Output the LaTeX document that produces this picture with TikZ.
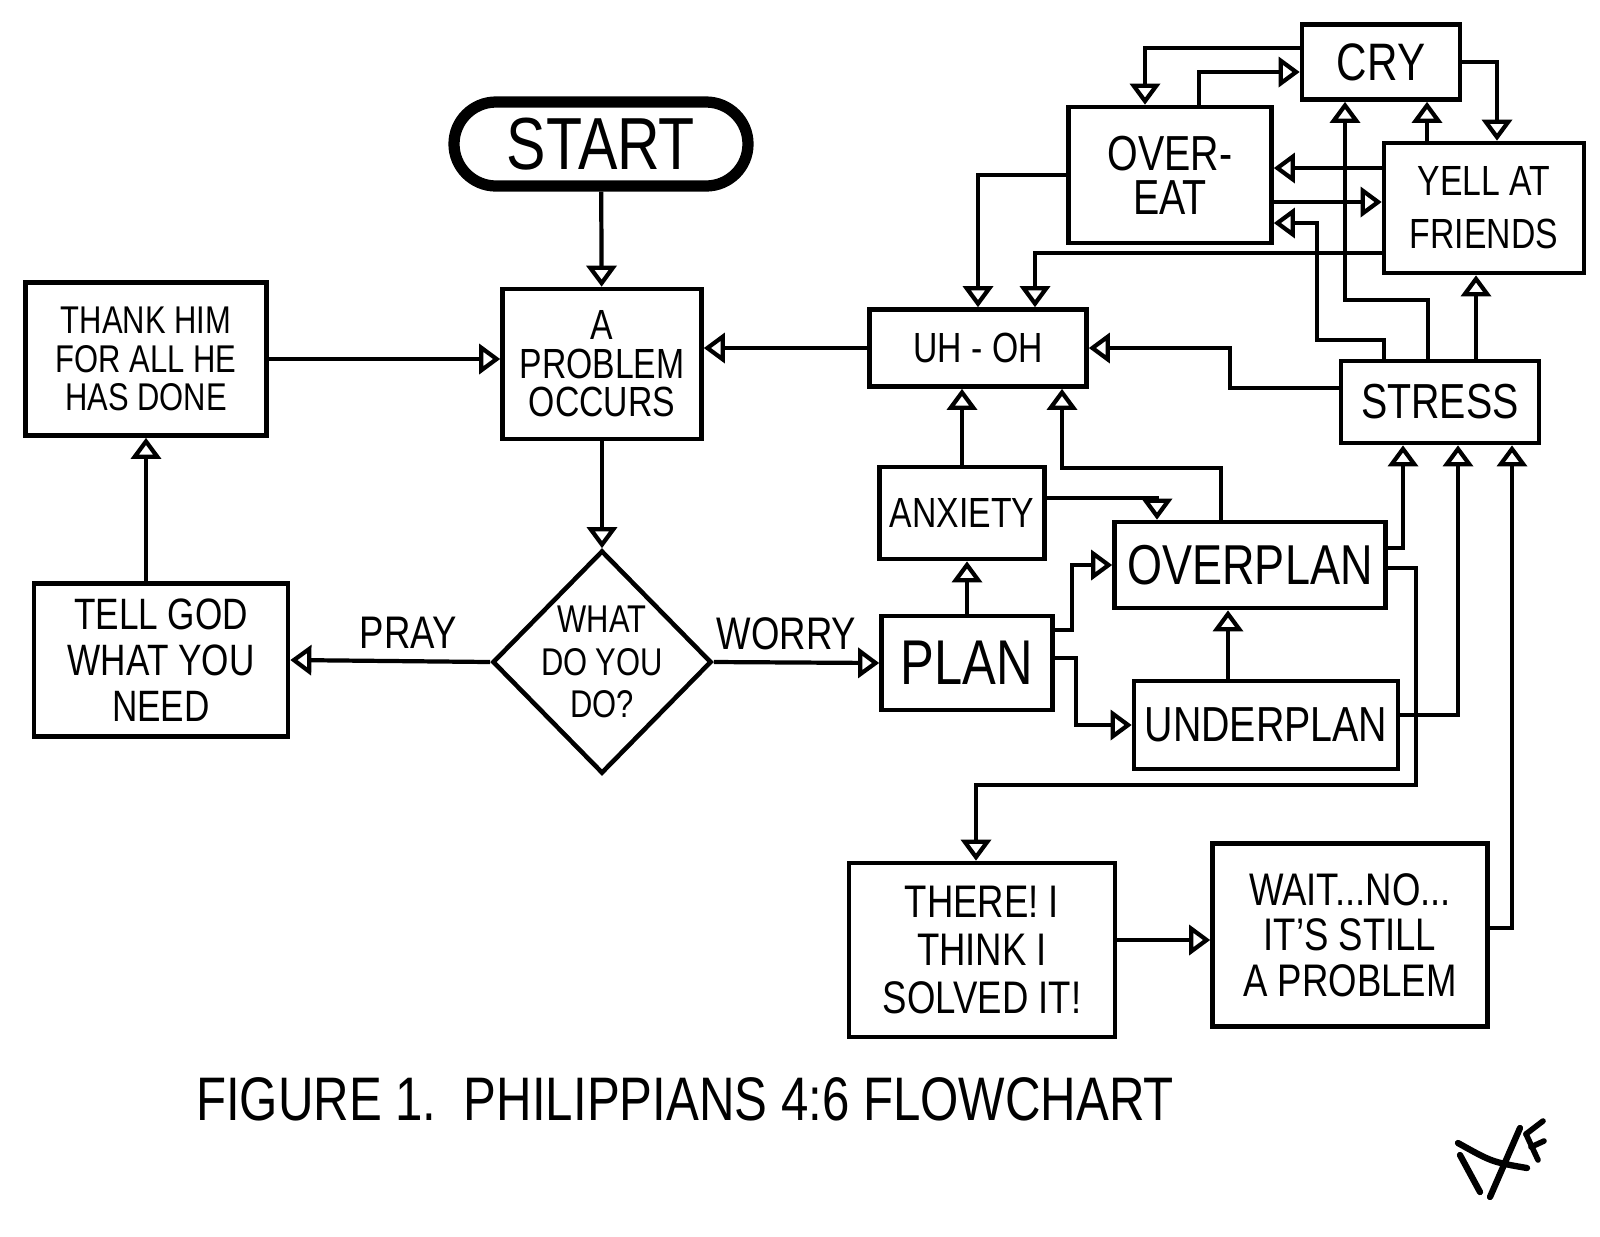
\documentclass[tikz,border=0pt]{standalone}
\usepackage{fontspec}
\setmainfont{Liberation Sans}[FakeStretch=0.8]
\usetikzlibrary{arrows.meta,shapes.geometric}

\newcommand\handsize[2]{\fontsize{#1}{#2}\selectfont}

\begin{document}
\begin{tikzpicture}[x=0.1mm,y=-0.1mm,line join=miter,
    box/.style={draw,line width=1.3pt,align=center,inner sep=0pt},
    flow/.style={line width=1.2pt,-{Triangle[open,length=6pt,width=8.5pt]}},
    lbl/.style={font=\handsize{13}{15},inner sep=3pt}]

    \useasboundingbox (0,0) rectangle (1600,1236);

    % left half
    \node[box,line width=3.2pt,rounded corners=4.2mm,minimum width=2.94cm,minimum height=8.4mm,
        font=\handsize{21}{24}] (start) at (601,144) {START};
    \node[box,minimum width=1.99cm,minimum height=1.5cm,font=\handsize{12}{11}]
        (problem) at (602,364) {A\\PROBLEM\\OCCURS};
    \node[box,minimum width=2.41cm,minimum height=1.53cm,font=\handsize{11}{11}]
        (thank) at (146,359) {THANK HIM\\FOR ALL HE\\HAS DONE};
    \node[box,minimum width=2.54cm,minimum height=1.53cm,font=\handsize{12.5}{13}]
        (tell) at (161,660) {TELL GOD\\WHAT YOU\\NEED};
    \node[box,diamond,minimum width=2.19cm,minimum height=2.23cm,inner sep=-5mm,
        font=\handsize{11}{12}] (what) at (602,662) {WHAT\\DO YOU\\DO?};

    % worry side
    \node[box,minimum width=1.71cm,minimum height=9.4mm,font=\handsize{18}{20}]
        (plan) at (967,663) {PLAN};
    \node[box,minimum width=1.65cm,minimum height=9.2mm,font=\handsize{12}{14}]
        (anxiety) at (962,513) {ANXIETY};
    \node[box,minimum width=2.17cm,minimum height=7.7mm,font=\handsize{12}{14}]
        (uhoh) at (978,348) {UH - OH};
    \node[box,minimum width=2.71cm,minimum height=8.6mm,font=\handsize{16}{18}]
        (overplan) at (1250,565) {OVERPLAN};
    \node[box,minimum width=2.64cm,minimum height=8.8mm,font=\handsize{14}{16}]
        (underplan) at (1266,725) {UNDERPLAN};
    \node[box,minimum width=1.98cm,minimum height=8.2mm,font=\handsize{14}{16}]
        (stress) at (1440,402) {STRESS};
    \node[box,minimum width=2.03cm,minimum height=1.36cm,font=\handsize{14}{12.5}]
        (overeat) at (1170,175) {OVER-\\EAT};
    \node[box,minimum width=1.58cm,minimum height=7.5mm,font=\handsize{15}{17}]
        (cry) at (1381,62) {CRY};
    \node[box,minimum width=2cm,minimum height=1.3cm,font=\handsize{12}{15}]
        (yell) at (1484,208) {YELL AT\\FRIENDS};
    \node[box,minimum width=2.66cm,minimum height=1.74cm,font=\handsize{13}{13.7}]
        (there) at (982,950) {THERE! I\\THINK I\\SOLVED IT!};
    \node[box,minimum width=2.75cm,minimum height=1.83cm,font=\handsize{13}{13}]
        (wait) at (1350,935) {WAIT...NO...\\IT'S STILL\\A PROBLEM};

    \node[font=\handsize{17.5}{20}] (caption) at (685,1099)
        {FIGURE 1.\ \ PHILIPPIANS 4:6 FLOWCHART};

    % main loop
    \draw[flow] (start) -- (problem);
    \draw[flow] (problem) -- (what);
    \draw[flow] (what.west) -- (tell.east) node[lbl,above,pos=0.41]{PRAY};
    \draw[flow] (what.east) -- (plan.west) node[lbl,above,pos=0.44]{WORRY};
    \draw[flow] (thank.south |- tell.north) -- (thank.south);
    \draw[flow] (thank.east) -- (thank.east -| problem.west);
    \draw[flow] (uhoh.west) -- (uhoh.west -| problem.east);

    % planning
    \draw[flow] (anxiety.north) -- (anxiety.north |- uhoh.south);
    \draw[flow] (plan.north) -- (plan.north |- anxiety.south);
    \draw[flow] (overplan.north -| 1221,0) |- (1062,468) -- (uhoh.south -| 1062,0);
    \draw[flow] (anxiety.east |- 0,498) -| (overplan.north -| 1157,0);
    \draw[flow] (plan.east |- 0,630) -| (1072,565) -- (overplan.west);
    \draw[flow] (plan.east |- 0,658) -| (1076,725) -- (underplan.west);
    \draw[flow] (underplan.north -| 1228,0) -- (overplan.south -| 1228,0);
    \draw[flow] (overplan.east |- 0,548) -| (stress.south -| 1403,0);
    \draw[flow] (underplan.east |- 0,715) -| (stress.south -| 1458,0);
    \draw[flow] (wait.east |- 0,928) -| (stress.south -| 1512,0);
    \draw[flow] (overplan.east |- 0,568) -| (1416,785) -| (there.north -| 976,0);
    \draw[flow] (there.east |- 0,940) -- (wait.west |- 0,940);

    % stress
    \draw[flow] (stress.west |- 0,388) -| (1230,348) -- (uhoh.east);
    \draw[flow] (overeat.west) -| (uhoh.north);
    \draw[flow] (yell.west |- 0,253) -| (uhoh.north -| 1035,0);
    \draw[flow] (stress.north -| 1384,0) |- (1317,340) |- (overeat.east |- 0,223);
    \draw[flow] (stress.north -| 1428,0) |- (1345,300) -- (cry.south -| 1345,0);
    \draw[flow] (stress.north -| 1476,0) -- (yell.south -| 1476,0);
    \draw[flow] (yell.north -| 1427,0) -- (cry.south -| 1427,0);
    \draw[flow] (cry.east) -| (yell.north -| 1497,0);
    \draw[flow] (cry.west |- 0,48) -| (overeat.north -| 1145,0);
    \draw[flow] (overeat.north -| 1199,0) |- (cry.west |- 0,72);
    \draw[flow] (yell.west |- 0,168) -- (overeat.east |- 0,168);
    \draw[flow] (overeat.east |- 0,202) -- (yell.west |- 0,202);

    % initials
    \draw[line width=1.8pt,line cap=round] (1458,1143) .. controls (1492,1162) .. (1527,1168);
    \draw[line width=1.8pt,line cap=round] (1460,1155) -- (1480,1192);
    \draw[line width=1.8pt,line cap=round] (1520,1128) -- (1490,1197);
    \draw[line width=1.6pt,line cap=round] (1526,1134) -- (1538,1160);
    \draw[line width=1.6pt,line cap=round] (1526,1134) -- (1543,1121);
    \draw[line width=1.6pt,line cap=round] (1531,1147) -- (1544,1141);
\end{tikzpicture}
\end{document}
